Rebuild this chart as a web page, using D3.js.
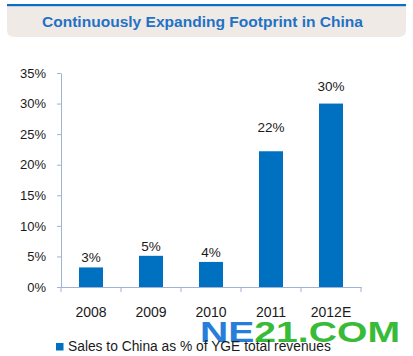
<!DOCTYPE html>
<html>
<head>
<meta charset="utf-8">
<script src="https://cdn.jsdelivr.net/npm/d3@7"></script>
<style>
  html, body { margin: 0; padding: 0; background: #ffffff; }
  svg { display: block; }
  text { font-family: "Liberation Sans", Arial, sans-serif; }
</style>
</head>
<body>
<svg id="chart" width="413" height="356"></svg>
<script>
const title = "Continuously Expanding Footprint in China";
const categories = ["2008", "2009", "2010", "2011", "2012E"];
const values = [3.2, 5.1, 4.1, 22.2, 30.0];
const valueLabels = ["3%", "5%", "4%", "22%", "30%"];
const yTicks = [0, 5, 10, 15, 20, 25, 30, 35];
const legendLabel = "Sales to China as % of YGE total revenues";

const labelGap = [5, 5, 5, 19, 13];

const svg = d3.select("#chart");
const barColor = "#0070c0";
const axisColor = "#9fb3d6";
const textColor = "#1a1a1a";

// Title banner
const bx = 7, bw = 399, by = 5, bh = 32, r = 7;
svg.append("path")
  .attr("d", `M${bx},${by} H${bx + bw} V${by + bh - r} Q${bx + bw},${by + bh} ${bx + bw - r},${by + bh} H${bx + r} Q${bx},${by + bh} ${bx},${by + bh - r} Z`)
  .attr("fill", "#f0eae7");
svg.append("rect").attr("x", bx).attr("y", 4).attr("width", bw).attr("height", 2.2).attr("fill", "#0a6fc2");
svg.append("text")
  .attr("x", 202.5).attr("y", 27)
  .attr("text-anchor", "middle")
  .attr("font-size", 15.5).attr("font-weight", "bold")
  .attr("fill", "#1f72c4")
  .attr("textLength", 321).attr("lengthAdjust", "spacingAndGlyphs")
  .text(title);

// Scales
const x = d3.scaleBand().domain(categories).range([61, 361]).paddingInner(0.6).paddingOuter(0.3);
const y = d3.scaleLinear().domain([0, 35]).range([287, 73]);

// Y axis
const yAxis = svg.append("g").attr("transform", "translate(61,0)")
  .call(d3.axisLeft(y).tickValues(yTicks).tickSize(4).tickSizeOuter(0).tickPadding(11).tickFormat(d => d + "%"));
yAxis.select(".domain").attr("stroke", axisColor);
yAxis.selectAll(".tick line").attr("stroke", axisColor);
yAxis.selectAll(".tick text").attr("font-size", 13).attr("fill", textColor)
  .attr("font-family", "Liberation Sans, Arial, sans-serif");

// X axis
const xAxis = svg.append("g").attr("transform", "translate(0,287)")
  .call(d3.axisBottom(x).tickSize(0).tickSizeOuter(0).tickPadding(20));
xAxis.select(".domain").attr("stroke", axisColor);
xAxis.selectAll(".tick text").attr("font-size", 14).attr("fill", textColor)
  .attr("font-family", "Liberation Sans, Arial, sans-serif");
const boundaries = d3.range(categories.length + 1).map(i => x.range()[0] + i * x.step());
svg.append("g").selectAll("line").data(boundaries).join("line")
  .attr("x1", d => d).attr("x2", d => d)
  .attr("y1", 287).attr("y2", 292)
  .attr("stroke", axisColor);

// Bars
svg.append("g").selectAll("rect").data(values).join("rect")
  .attr("x", (d, i) => x(categories[i]))
  .attr("y", d => y(d))
  .attr("width", x.bandwidth())
  .attr("height", d => y(0) - y(d))
  .attr("fill", barColor);

// Value labels
svg.append("g").selectAll("text").data(values).join("text")
  .attr("x", (d, i) => x(categories[i]) + x.bandwidth() / 2)
  .attr("y", (d, i) => y(d) - labelGap[i])
  .attr("text-anchor", "middle")
  .attr("font-size", 13.5)
  .attr("fill", textColor)
  .text((d, i) => valueLabels[i]);

// Watermark
const wm = svg.append("text")
  .attr("x", 200).attr("y", 342)
  .attr("font-family", "DejaVu Sans, sans-serif")
  .attr("font-weight", "bold")
  .attr("font-size", 30)
  .attr("textLength", 200).attr("lengthAdjust", "spacingAndGlyphs")
  .attr("opacity", 0.95);
wm.append("tspan").attr("fill", "#1c78d6").text("NE");
wm.append("tspan").attr("fill", "#2eb82e").text("21.COM");

// Legend
svg.append("rect").attr("x", 56).attr("y", 343).attr("width", 7.5).attr("height", 7.5).attr("fill", barColor);
svg.append("text")
  .attr("x", 68).attr("y", 351)
  .attr("font-size", 13.8)
  .attr("fill", textColor)
  .text(legendLabel);
</script>
</body>
</html>
